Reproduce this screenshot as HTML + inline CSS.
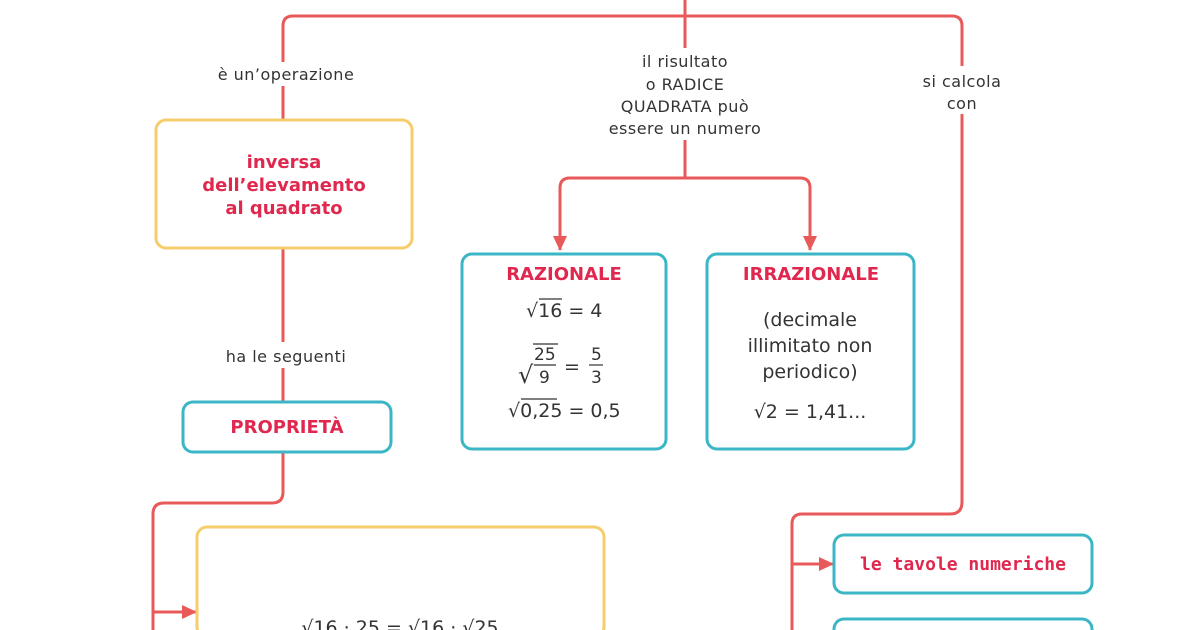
<!DOCTYPE html>
<html><head><meta charset="utf-8"><style>
body{margin:0;background:#fff;width:1200px;height:630px;overflow:hidden}
svg{display:block}
svg text{font-family:"DejaVu Sans","Liberation Sans",sans-serif}
.l{font-size:16px;fill:#333;letter-spacing:0.5px}
.b{font-size:18px;fill:#e0284f;font-weight:bold;font-family:"DejaVu Sans Mono","Liberation Mono",monospace}
.m{font-size:19px;fill:#333}
</style></head><body>
<svg width="1200" height="630" xmlns="http://www.w3.org/2000/svg">
<defs><marker id="a" markerWidth="16" markerHeight="14" refX="14" refY="7" orient="auto" markerUnits="userSpaceOnUse"><path d="M0,0 L15,7 L0,14 z" fill="#e85a5a"/></marker></defs>
<g fill="none" stroke="#e85a5a" stroke-width="3">
<path d="M685,0 V16"/>
<path d="M283,120 V26 Q283,16 293,16 H952 Q962,16 962,26 V502 Q962,514 950,514 H802 Q792,514 792,524 V630"/>
<path d="M685,16 V178"/>
<path d="M560,236 V188 Q560,178 570,178 H800 Q810,178 810,188 V236" />
<path d="M560,230 V250" marker-end="url(#a)"/>
<path d="M810,230 V250" marker-end="url(#a)"/>
<path d="M283,248 V402"/>
<path d="M283,452 V492 Q283,503 272,503 H164 Q153,503 153,514 V630"/>
<path d="M153,612 H196" marker-end="url(#a)"/>
<path d="M792,564 H833" marker-end="url(#a)"/>
</g>
<g fill="#fff">
<rect x="195" y="62" width="180" height="24"/>
<rect x="595" y="48" width="180" height="92"/>
<rect x="905" y="66" width="110" height="48"/>
<rect x="205" y="342" width="160" height="26"/>
</g>
<text class="l" x="286" y="80" text-anchor="middle">è un’operazione</text>
<g class="l" text-anchor="middle"><text x="685" y="67">il risultato</text><text x="685" y="90">o RADICE</text><text x="685" y="112">QUADRATA può</text><text x="685" y="134">essere un numero</text></g>
<g class="l" text-anchor="middle"><text x="962" y="87">si calcola</text><text x="962" y="109">con</text></g>
<text class="l" x="286" y="362" text-anchor="middle">ha le seguenti</text>
<g fill="none" stroke-width="3">
<rect x="156" y="120" width="256" height="128" rx="10" stroke="#f5cd6a"/>
<rect x="183" y="402" width="208" height="50" rx="10" stroke="#3bb6c6"/>
<rect x="197" y="527" width="407" height="110" rx="10" stroke="#f5cd6a"/>
<rect x="462" y="254" width="204" height="195" rx="10" stroke="#3bb6c6"/>
<rect x="707" y="254" width="207" height="195" rx="10" stroke="#3bb6c6"/>
<rect x="834" y="535" width="258" height="58" rx="10" stroke="#3bb6c6"/>
<rect x="834" y="619" width="258" height="20" rx="10" stroke="#3bb6c6"/>
</g>
<g class="b" text-anchor="middle"><text x="284" y="168">inversa</text><text x="284" y="191">dell’elevamento</text><text x="284" y="214">al quadrato</text></g>
<text class="b" x="287" y="433" text-anchor="middle" style="font-family:'DejaVu Sans',sans-serif">PROPRIETÀ</text>
<text class="b" x="564" y="280" text-anchor="middle" style="font-family:'DejaVu Sans',sans-serif">RAZIONALE</text>
<text class="b" x="811" y="280" text-anchor="middle" style="font-family:'DejaVu Sans',sans-serif">IRRAZIONALE</text>
<text class="b" x="963" y="570" text-anchor="middle">le tavole numeriche</text>
<g class="m">
<text x="526" y="317">√16 = 4</text>
<path d="M539,299 H562" stroke="#333" stroke-width="1.2"/>
<text x="518" y="383" font-size="24">√</text>
<path d="M533,344 H558" stroke="#333" stroke-width="1.2"/>
<text x="534" y="360" font-size="17">25</text><path d="M534,365 H556" stroke="#333" stroke-width="1.2"/><text x="539" y="383" font-size="17">9</text>
<text x="564" y="373">=</text>
<text x="591" y="360" font-size="17">5</text><path d="M589,365 H603" stroke="#333" stroke-width="1.2"/><text x="591" y="383" font-size="17">3</text>
<text x="508" y="417">√0,25 = 0,5</text>
<path d="M521,399 H557" stroke="#333" stroke-width="1.2"/>
</g>
<g class="m" text-anchor="middle"><text x="810" y="326">(decimale</text><text x="810" y="352">illimitato non</text><text x="810" y="378">periodico)</text><text x="810" y="418">√2 = 1,41...</text></g>
<text class="m" x="400" y="634" text-anchor="middle">√16 · 25 = √16 · √25</text>
</svg>
</body></html>
